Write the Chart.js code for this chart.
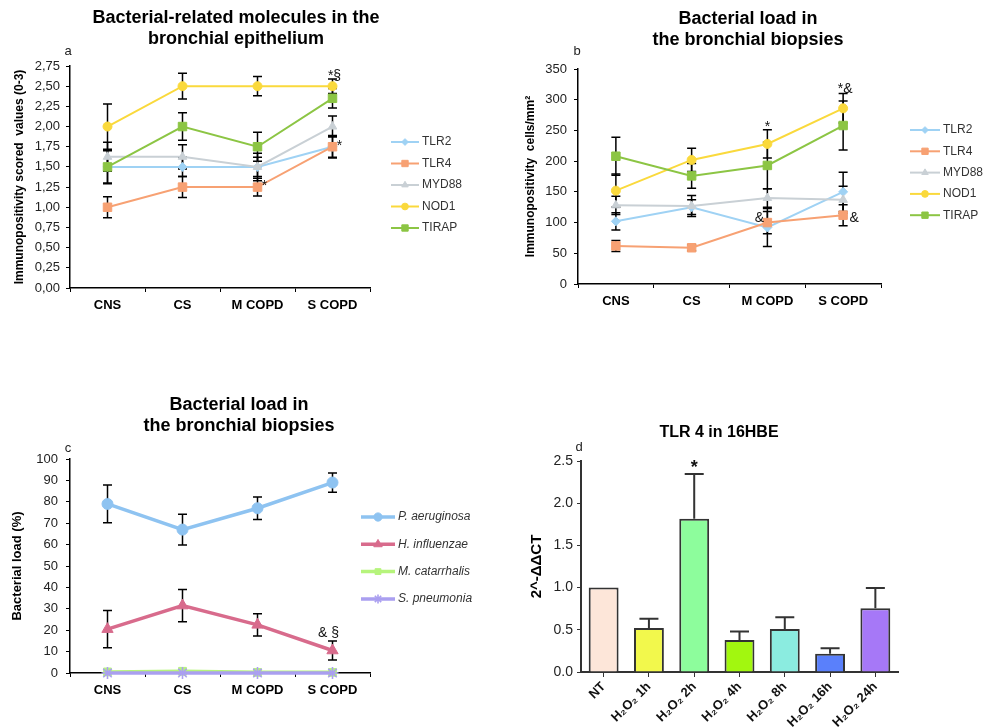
<!DOCTYPE html>
<html>
<head>
<meta charset="utf-8">
<script src="https://cdn.jsdelivr.net/npm/chart.js@4.4.0/dist/chart.umd.min.js"></script>
<style>
  body { margin: 0; background: #fff; width: 985px; height: 728px; position: relative; overflow: hidden; }
  .panel { position: absolute; }
</style>
</head>
<body>
<div class="panel" style="left:0;top:0;width:495px;height:330px"><canvas id="chartA"></canvas></div>
<div class="panel" style="left:500px;top:0;width:485px;height:330px"><canvas id="chartB"></canvas></div>
<div class="panel" style="left:0;top:380px;width:495px;height:348px"><canvas id="chartC"></canvas></div>
<div class="panel" style="left:500px;top:410px;width:485px;height:318px"><canvas id="chartD"></canvas></div>
<script>
const groups = ['CNS', 'CS', 'M COPD', 'S COPD'];

// a - immunopositivity scores in the bronchial epithelium (mean, sd)
const scoreTLR2 = [1.5, 1.5, 1.5, 1.75];
const scoreTLR2Sd = [0.2, 0.12, 0.17, 0.13];
const scoreTLR4 = [1.0, 1.25, 1.25, 1.75];
const scoreTLR4Sd = [0.13, 0.13, 0.11, 0.14];
const scoreMYD88 = [1.625, 1.625, 1.5, 2.0];
const scoreMYD88Sd = [0.18, 0.15, 0.12, 0.13];
const scoreNOD1 = [2.0, 2.5, 2.5, 2.5];
const scoreNOD1Sd = [0.28, 0.16, 0.12, 0.09];
const scoreTIRAP = [1.5, 2.0, 1.75, 2.35];
const scoreTIRAPSd = [0.21, 0.17, 0.18, 0.12];

// b - immunopositive cells/mm2 in bronchial biopsies
const cellsTLR2 = [102, 125, 92, 150];
const cellsTLR2Sd = [14, 12, 31, 32];
const cellsTLR4 = [62, 59, 100, 112];
const cellsTLR4Sd = [9, 5, 18, 17];
const cellsMYD88 = [128, 127, 140, 137];
const cellsMYD88Sd = [15, 17, 15, 22];
const cellsNOD1 = [152, 202, 228, 286];
const cellsNOD1Sd = [27, 19, 23, 24];
const cellsTIRAP = [208, 176, 193, 258];
const cellsTIRAPSd = [31, 20, 38, 40];

// c - bacterial load (%)
const loadPa = [79, 67, 77, 89];
const loadPaSd = [8.8, 7.2, 5.3, 4.5];
const loadHi = [20.5, 31.5, 22.5, 10.5];
const loadHiSd = [8.7, 7.5, 5.2, 4.4];
const loadMc = [0.5, 0.8, 0.3, 0.3];
const loadSp = [0, 0, 0, 0];

// d - TLR4 in 16HBE after H2O2
const timeLabels = ['NT', 'H\u2082O\u2082 1h', 'H\u2082O\u2082 2h', 'H\u2082O\u2082 4h', 'H\u2082O\u2082 8h', 'H\u2082O\u2082 16h', 'H\u2082O\u2082 24h'];
const tlr4Fold = [1.0, 0.52, 1.815, 0.38, 0.51, 0.215, 0.755];
const tlr4Err = [null, 0.11, 0.53, 0.1, 0.14, 0.065, 0.24];
const barColors = ['#fde6d9', '#f2f84c', '#8dfd9c', '#a2f70f', '#8bece0', '#5a80fb', '#a678f7'];

// significance marks: [group index, value, text, x shift]
const notesA = [[3, 2.62, '*\u00a7', 2], [3, 1.76, '*', 7], [2, 1.26, '*', 7]];
const notesB = [[3, 318, '*&', 2], [2, 255, '*', 0], [2, 108, '&', -8], [3, 108, '&', 11]];
const notesC = [[3, 18.5, '& \u00a7', -4]];
const notesD = [[2, 2.42, '*', 0]];

const FONT = '"Liberation Sans", Arial, Helvetica, sans-serif';
Chart.defaults.font.family = FONT;
Chart.defaults.color = '#222';
Chart.defaults.animation = false;

// drawn before the datasets so markers sit on top of the bars
const errorBars = {
  id: 'errorBars',
  beforeDatasetsDraw(chart, args, o) {
    const ctx = chart.ctx, y = chart.scales.y;
    ctx.save();
    ctx.strokeStyle = o.color || '#000';
    ctx.lineWidth = o.width || 1.5;
    chart.data.datasets.forEach((ds, di) => {
      if (!ds.errors) return;
      chart.getDatasetMeta(di).data.forEach((el, i) => {
        const e = ds.errors[i];
        if (e == null) return;
        const v = ds.data[i];
        const top = y.getPixelForValue(v + e);
        const bot = y.getPixelForValue(o.upOnly ? v : v - e);
        ctx.beginPath();
        ctx.moveTo(el.x, top); ctx.lineTo(el.x, bot);
        ctx.moveTo(el.x - o.cap, top); ctx.lineTo(el.x + o.cap, top);
        if (!o.upOnly) { ctx.moveTo(el.x - o.cap, bot); ctx.lineTo(el.x + o.cap, bot); }
        ctx.stroke();
      });
    });
    ctx.restore();
  }
};

const notes = {
  id: 'notes',
  afterDatasetsDraw(chart, args, o) {
    const ctx = chart.ctx, {x, y} = chart.scales;
    ctx.save();
    ctx.fillStyle = '#111';
    ctx.font = o.font;
    ctx.textAlign = 'center';
    ctx.textBaseline = 'middle';
    (o.items || []).forEach(n => ctx.fillText(n[2], x.getPixelForValue(n[0]) + n[3], y.getPixelForValue(n[1])));
    ctx.restore();
  }
};

const heading = {
  id: 'heading',
  afterDraw(chart, args, o) {
    const ctx = chart.ctx;
    ctx.save();
    ctx.fillStyle = '#000';
    ctx.textAlign = 'center';
    ctx.textBaseline = 'middle';
    ctx.font = 'bold ' + o.size + 'px ' + FONT;
    o.lines.forEach((t, i) => ctx.fillText(t, o.x, o.y + i * o.gap));
    ctx.font = '13px ' + FONT;
    ctx.fillStyle = '#222';
    ctx.fillText(o.letter, o.lx, o.ly);
    ctx.restore();
  }
};

// legend with line sample + marker, placed beside the plot
const sideKey = {
  id: 'sideKey',
  afterDraw(chart, args, o) {
    if (!o.x) return;
    const ctx = chart.ctx;
    ctx.save();
    chart.data.datasets.forEach((ds, i) => {
      const y = o.y + i * o.gap;
      ctx.strokeStyle = ds.borderColor;
      ctx.lineWidth = ds.borderWidth;
      ctx.beginPath(); ctx.moveTo(o.x, y); ctx.lineTo(o.x + o.len, y); ctx.stroke();
      ctx.fillStyle = ds.pointBackgroundColor;
      ctx.strokeStyle = ds.pointBorderColor;
      ctx.lineWidth = ds.pointBorderWidth;
      Chart.helpers.drawPoint(ctx, {pointStyle: ds.pointStyle, radius: ds.pointRadius * 0.75, rotation: 0, borderWidth: ds.pointBorderWidth}, o.x + o.len / 2, y);
      ctx.fillStyle = '#333';
      ctx.font = (o.italic ? 'italic ' : '') + '12px ' + FONT;
      ctx.textAlign = 'left';
      ctx.textBaseline = 'middle';
      ctx.fillText(ds.label, o.x + o.len + 3, y);
    });
    ctx.restore();
  }
};

function series(label, data, errors, color, style, radius, width) {
  return {
    label, data, errors,
    borderColor: color, backgroundColor: color,
    pointBackgroundColor: color, pointBorderColor: color,
    pointStyle: style, pointRadius: radius, pointHoverRadius: radius,
    pointBorderWidth: style === 'star' ? 1.6 : 1,
    borderWidth: width, fill: false, tension: 0, clip: false
  };
}

function groupChart(id, datasets, p) {
  // later series are painted on top, like the original spreadsheet plot
  datasets.forEach((d, i) => { d.order = -i; });
  return new Chart(document.getElementById(id), {
    type: 'line',
    data: { labels: groups, datasets },
    plugins: [errorBars, notes, heading, sideKey],
    options: {
      responsive: true,
      maintainAspectRatio: false,
      events: [],
      layout: { padding: p.padding },
      plugins: {
        legend: { display: false },
        tooltip: { enabled: false },
        errorBars: { cap: 4.5, width: 1.5, color: '#000' },
        notes: { items: p.notes, font: '14px ' + FONT },
        heading: p.heading,
        sideKey: p.key
      },
      scales: {
        x: {
          offset: true,
          grid: { offset: true, drawOnChartArea: false, tickLength: 4, color: '#000' },
          border: { color: '#000', width: 1.5 },
          ticks: { font: { size: 13, weight: 'bold' }, color: '#000', padding: p.xPad, maxRotation: 0 },
          afterFit: s => { s.height = p.xHeight; }
        },
        y: {
          min: p.min, max: p.max,
          grid: { drawOnChartArea: false, tickLength: 4, color: '#000' },
          border: { color: '#000', width: 1.5 },
          ticks: { stepSize: p.step, autoSkip: false, font: { size: p.tickSize }, padding: p.yPad, callback: p.fmt },
          title: { display: true, text: p.title, color: '#000', font: { size: p.titleSize, weight: 'bold' }, padding: { top: p.titlePad, bottom: 0 } },
          afterFit: s => { s.width = p.yWidth; }
        }
      }
    }
  });
}

const cBlue = '#9fd2f4', cOrange = '#f7a173', cGrey = '#c9d0d5', cYellow = '#fad93c', cGreen = '#8cc544';

groupChart('chartA', [
  series('TLR2', scoreTLR2, scoreTLR2Sd, cBlue, 'rectRot', 4.5, 2),
  series('TLR4', scoreTLR4, scoreTLR4Sd, cOrange, 'rect', 6, 2),
  series('MYD88', scoreMYD88, scoreMYD88Sd, cGrey, 'triangle', 5, 2),
  series('NOD1', scoreNOD1, scoreNOD1Sd, cYellow, 'circle', 4.5, 2),
  series('TIRAP', scoreTIRAP, scoreTIRAPSd, cGreen, 'rect', 6, 2)
], {
  padding: { top: 66, right: 125, left: 0, bottom: 0 },
  min: 0, max: 2.75, step: 0.25, tickSize: 13, yPad: 6, yWidth: 70,
  fmt: v => v.toFixed(2).replace('.', ','),
  title: 'Immunopositivity scored  values (0-3)', titleSize: 12, titlePad: 12,
  xPad: 6, xHeight: 42,
  notes: notesA,
  heading: { lines: ['Bacterial-related molecules in the', 'bronchial epithelium'], size: 18, x: 236, y: 18, gap: 21.5, letter: 'a', lx: 68, ly: 51 },
  key: { x: 391, y: 142, gap: 21.5, len: 28 }
});

groupChart('chartB', [
  series('TLR2', cellsTLR2, cellsTLR2Sd, cBlue, 'rectRot', 4.5, 2),
  series('TLR4', cellsTLR4, cellsTLR4Sd, cOrange, 'rect', 6, 2),
  series('MYD88', cellsMYD88, cellsMYD88Sd, cGrey, 'triangle', 5, 2),
  series('NOD1', cellsNOD1, cellsNOD1Sd, cYellow, 'circle', 4.5, 2),
  series('TIRAP', cellsTIRAP, cellsTIRAPSd, cGreen, 'rect', 6, 2)
], {
  padding: { top: 69, right: 104, left: 0, bottom: 0 },
  min: 0, max: 350, step: 50, tickSize: 13, yPad: 7, yWidth: 78,
  fmt: v => v,
  title: 'Immunopositivity  cells/mm\u00b2', titleSize: 12, titlePad: 23,
  xPad: 6, xHeight: 46,
  notes: notesB,
  heading: { lines: ['Bacterial load in', 'the bronchial biopsies'], size: 18, x: 248, y: 19, gap: 21.5, letter: 'b', lx: 77, ly: 51 },
  key: { x: 410, y: 130, gap: 21.3, len: 30 }
});

groupChart('chartC', [
  series('P. aeruginosa', loadPa, loadPaSd, '#8ec3f1', 'circle', 5.5, 3.5),
  series('H. influenzae', loadHi, loadHiSd, '#d86b8c', 'triangle', 6.5, 3.5),
  series('M. catarrhalis', loadMc, null, '#b6f47c', 'rect', 5.5, 3.5),
  series('S. pneumonia', loadSp, null, '#aa9ff0', 'star', 6, 3.5)
], {
  padding: { top: 79, right: 125, left: 0, bottom: 0 },
  min: 0, max: 100, step: 10, tickSize: 13, yPad: 8, yWidth: 70,
  fmt: v => v,
  title: 'Bacterial load (%)', titleSize: 13, titlePad: 10,
  xPad: 6, xHeight: 55,
  notes: notesC,
  heading: { lines: ['Bacterial load in', 'the bronchial biopsies'], size: 18, x: 239, y: 25, gap: 21, letter: 'c', lx: 68, ly: 68 },
  key: { x: 361, y: 137, gap: 27.3, len: 34, italic: true }
});

new Chart(document.getElementById('chartD'), {
  type: 'bar',
  data: {
    labels: timeLabels,
    datasets: [{
      label: 'TLR 4',
      data: tlr4Fold,
      errors: tlr4Err,
      backgroundColor: barColors,
      borderColor: '#333',
      borderWidth: 2,
      borderSkipped: 'bottom',
      categoryPercentage: 1,
      barPercentage: 0.66
    }]
  },
  plugins: [errorBars, notes, heading],
  options: {
    responsive: true,
    maintainAspectRatio: false,
    events: [],
    layout: { padding: { top: 51, right: 87, left: 0, bottom: 0 } },
    plugins: {
      legend: { display: false },
      tooltip: { enabled: false },
      errorBars: { cap: 9.5, width: 2, color: '#333', upOnly: true },
      notes: { items: notesD, font: 'bold 18px ' + FONT },
      heading: { lines: ['TLR 4 in 16HBE'], size: 16, x: 219, y: 23, gap: 0, letter: 'd', lx: 79, ly: 37 }
    },
    scales: {
      x: {
        grid: { offset: false, drawOnChartArea: false, tickLength: 5, color: '#333' },
        border: { color: '#333', width: 2 },
        ticks: { font: { size: 13, weight: 'bold' }, color: '#111', padding: 2, minRotation: 45, maxRotation: 45, autoSkip: false },
        afterFit: s => { s.height = 56; }
      },
      y: {
        min: 0, max: 2.5,
        grid: { drawOnChartArea: false, tickLength: 4, color: '#333' },
        border: { color: '#333', width: 2 },
        ticks: { stepSize: 0.5, font: { size: 14 }, padding: 4, callback: v => v.toFixed(1) },
        title: { display: true, text: '2^-\u0394\u0394CT', color: '#000', font: { size: 15, weight: 'bold' }, padding: { top: 28, bottom: 0 } },
        afterFit: s => { s.width = 81; }
      }
    }
  }
});
</script>
</body>
</html>
